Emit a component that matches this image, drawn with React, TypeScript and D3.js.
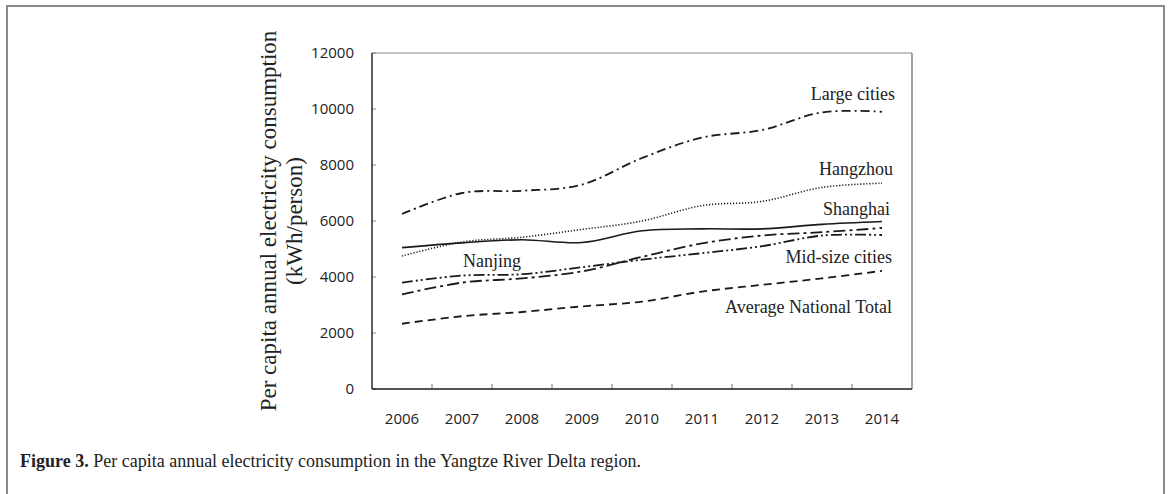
import React from "react";
import * as d3 from "d3";

const years = ["2006", "2007", "2008", "2009", "2010", "2011", "2012", "2013", "2014"];
const yTicks = [0, 2000, 4000, 6000, 8000, 10000, 12000];

const largeCities = [6250, 7000, 7080, 7300, 8250, 8980, 9250, 9880, 9900];
const hangzhou = [4750, 5250, 5420, 5700, 6000, 6550, 6700, 7200, 7350];
const shanghai = [5050, 5220, 5330, 5230, 5650, 5720, 5720, 5880, 5980];
const nanjing = [3800, 4050, 4100, 4350, 4620, 4850, 5100, 5480, 5500];
const midSize = [3380, 3800, 3950, 4200, 4720, 5200, 5480, 5600, 5750];
const nationalAvg = [2330, 2600, 2750, 2950, 3120, 3480, 3720, 3950, 4220];

const seriesNames = ["Large cities", "Hangzhou", "Shanghai", "Nanjing", "Mid-size cities", "Average National Total"];
const seriesValues = [largeCities, hangzhou, shanghai, nanjing, midSize, nationalAvg];
const seriesDash = ["9,4,2,4", "1.2,1.8", "none", "11,3,2,3,2,3", "12,4,3,4", "8,5"];
const seriesWidth = [1.8, 1.6, 1.6, 1.8, 1.8, 1.8];

const W = 1170;
const H = 494;
const plot = { left: 372, right: 912, top: 53, bottom: 389 };

export default function App() {
  const x = d3.scaleBand<string>().domain(years).range([plot.left, plot.right]);
  const y = d3.scaleLinear().domain([0, 12000]).range([plot.bottom, plot.top]);
  const cx = (yr: string) => (x(yr) as number) + x.bandwidth() / 2;
  const line = d3
    .line<number>()
    .x((_, i) => cx(years[i]))
    .y((d) => y(d))
    .curve(d3.curveCatmullRom.alpha(0));

  const serif = "'Liberation Serif', 'Times New Roman', serif";
  const sans = "'Open Sans', 'Noto Sans', sans-serif";
  const labelX = plot.right - 17;

  const labels = [
    { text: "Large cities", x: labelX, y: 100, anchor: "end" },
    { text: "Hangzhou", x: labelX - 2, y: 175, anchor: "end" },
    { text: "Shanghai", x: labelX - 5, y: 215, anchor: "end" },
    { text: "Nanjing", x: 492, y: 267, anchor: "middle" },
    { text: "Mid-size cities", x: labelX - 3, y: 263, anchor: "end" },
    { text: "Average National Total", x: labelX - 3, y: 313, anchor: "end" },
  ];

  const boundaries = years.slice(1).map((yr) => x(yr) as number);

  return (
    <svg width={W} height={H} style={{ position: "absolute", left: 0, top: 0, background: "#fff" }}>
      <rect x={7} y={6} width={1157} height={H + 20} fill="#fff" stroke="#8a8a8a" strokeWidth={2} />
      {/* plot frame top/right */}
      <line x1={plot.left} x2={plot.right} y1={plot.top} y2={plot.top} stroke="#888" strokeWidth={1.2} />
      <line x1={plot.right} x2={plot.right} y1={plot.top} y2={plot.bottom} stroke="#666" strokeWidth={1.2} />
      {/* y ticks */}
      {yTicks.map((t) => (
        <g key={t}>
          <line x1={plot.left} x2={plot.left + 4} y1={y(t)} y2={y(t)} stroke="#888" strokeWidth={1} />
          <text x={plot.left - 18} y={y(t)} dy="0.35em" textAnchor="end" fontFamily={sans} fontSize={15} fill="#222">
            {t}
          </text>
        </g>
      ))}
      {/* x ticks */}
      {boundaries.map((b, i) => (
        <line key={i} x1={b} x2={b} y1={plot.bottom} y2={plot.bottom - 5} stroke="#777" strokeWidth={1} />
      ))}
      {years.map((yr) => (
        <text key={yr} x={cx(yr)} y={plot.bottom + 35} textAnchor="middle" fontFamily={sans} fontSize={15} fill="#222">
          {yr}
        </text>
      ))}
      {/* axes */}
      <line x1={plot.left} x2={plot.left} y1={plot.top} y2={plot.bottom} stroke="#1a1a1a" strokeWidth={1.4} />
      <line x1={plot.left} x2={plot.right} y1={plot.bottom} y2={plot.bottom} stroke="#1a1a1a" strokeWidth={1.4} />
      {/* series */}
      {seriesValues.map((vals, i) => (
        <path
          key={seriesNames[i]}
          d={line(vals) || ""}
          fill="none"
          stroke="#1a1a1a"
          strokeWidth={seriesWidth[i]}
          strokeDasharray={seriesDash[i] === "none" ? undefined : seriesDash[i]}
        />
      ))}
      {labels.map((l) => (
        <text key={l.text} x={l.x} y={l.y} textAnchor={l.anchor as any} fontFamily={serif} fontSize={18} fill="#222">
          {l.text}
        </text>
      ))}
      {/* y title */}
      <text transform={`translate(276,221) rotate(-90)`} textAnchor="middle" fontFamily={serif} fontSize={23} fill="#222">
        Per capita annual electricity consumption
      </text>
      <text transform={`translate(302,221) rotate(-90)`} textAnchor="middle" fontFamily={serif} fontSize={23} fill="#222">
        (kWh/person)
      </text>
      {/* caption */}
      <text x={20} y={467} fontFamily={serif} fontSize={18} fill="#222">
        <tspan fontWeight="bold">Figure 3.</tspan>
        <tspan> Per capita annual electricity consumption in the Yangtze River Delta region.</tspan>
      </text>
    </svg>
  );
}
